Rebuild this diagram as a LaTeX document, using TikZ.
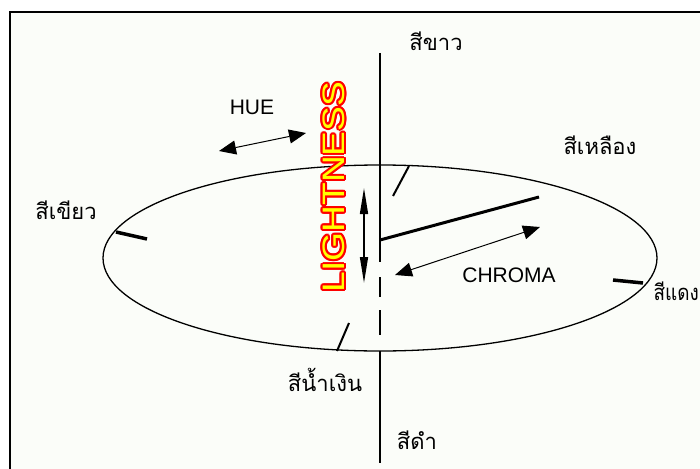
\documentclass[tikz,border=0pt]{standalone}
\usepackage{fontspec}
\setmainfont{Liberation Sans}
\newfontfamily\thaifont[Script=Thai]{Loma}
\usetikzlibrary{arrows.meta,calc}
\definecolor{paper}{RGB}{251,253,249}
\definecolor{lred}{RGB}{255,0,0}
\definecolor{lyellow}{RGB}{255,255,0}
\tikzset{
  thai/.style={font=\thaifont\fontsize{22}{22}\selectfont, inner sep=0pt},
  latin/.style={font=\fontsize{21}{21}\selectfont, inner sep=0pt},
  axisline/.style={line width=1.5pt, black},
  tickmark/.style={line width=2pt, black},
  thicktick/.style={line width=3.5pt, black},
  dblarrow/.style={line width=1pt, {Triangle[length=17pt,width=14pt]}-{Triangle[length=17pt,width=14pt]}},
  vertarrow/.style={line width=1.5pt, {Triangle[length=26pt,width=8pt]}-{Triangle[length=26pt,width=8pt]}},
  lighttext/.style={rotate=90, inner sep=0pt, font=\fontsize{31}{31}\selectfont}
}
\newcommand{\lightword}{\scalebox{1.2}[1]{LIGHTNESS}}
\begin{document}
\begin{tikzpicture}[x=1pt,y=-1pt]
\useasboundingbox (0,0) rectangle (700,468);
\clip (0,0) rectangle (700,468);
\fill[white] (0,0) rectangle (700,468);
\fill[paper] (10,12) rectangle (720,490);
\draw[line width=2.5pt] (10,12) rectangle (720,490);

% ellipse
\coordinate (C) at (380,258);
\draw[line width=1.3pt] (C) ellipse [x radius=277, y radius=93];

% vertical axis
\coordinate (Atop) at (380,53);
\coordinate (Amid) at (380,262);
\coordinate (D1a) at (380,277);
\coordinate (D1b) at (380,297);
\coordinate (D2a) at (380,310);
\coordinate (D2b) at (380,335);
\coordinate (Bbot) at (380,351);
\coordinate (Aend) at (380,463);
\draw[axisline] (Atop) -- (Amid);
\draw[axisline] (D1a) -- (D1b);
\draw[axisline] (D2a) -- (D2b);
\draw[axisline] (Bbot) -- (Aend);

% chroma radius
\coordinate (R0) at (380,240);
\coordinate (R1) at (539,197);
\draw[line width=3pt] (R0) -- (R1);

% chroma arrow
\coordinate (Ca) at (395,275);
\coordinate (Cb) at (540,227);
\draw[dblarrow] (Ca) -- (Cb);

% hue arrow
\coordinate (Ha) at (219,151);
\coordinate (Hb) at (306,133);
\draw[dblarrow] (Ha) -- (Hb);

% lightness arrow
\coordinate (La) at (364,188);
\coordinate (Lb) at (364,283);
\draw[vertarrow] (La) -- (Lb);

% ticks on ellipse
\coordinate (T1a) at (409,166); \coordinate (T1b) at (393,196);
\coordinate (T2a) at (116,232); \coordinate (T2b) at (147,239);
\coordinate (T3a) at (613,280); \coordinate (T3b) at (643,283);
\coordinate (T4a) at (337,351); \coordinate (T4b) at (349,323);
\draw[tickmark] (T1a) -- (T1b);
\draw[thicktick] (T2a) -- (T2b);
\draw[thicktick] (T3a) -- (T3b);
\draw[tickmark] (T4a) -- (T4b);

% LIGHTNESS outlined text
\coordinate (LT) at (334,187);
\foreach \ang in {0,30,...,330}
  \node[lighttext, text=lred] at ($(LT)+(\ang:2)$) {\lightword};
\foreach \ang in {0,45,...,315}
  \node[lighttext, text=lred] at ($(LT)+(\ang:1)$) {\lightword};
\node[lighttext, text=lyellow] (lightness) at (LT) {\lightword};

% labels
\node[thai] (white) at (436,41) {สีขาว};
\node[thai] (yellow) at (600,145) {สีเหลือง};
\node[thai] (green) at (66,210) {สีเขียว};
\node[thai, anchor=east] (red) at (699,291) {\scalebox{0.86}[1]{สีแดง}};
\node[thai] (blue) at (325,380) {สีน้ำเงิน};
\node[thai] (black) at (417,440) {สีดำ};
\node[latin] (hue) at (252,107) {HUE};
\node[latin] (chroma) at (509,275) {CHROMA};
\end{tikzpicture}
\end{document}
